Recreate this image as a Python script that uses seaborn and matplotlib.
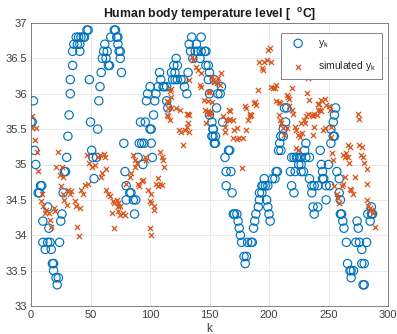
import matplotlib
matplotlib.use("Agg")
import matplotlib.pyplot as plt
import seaborn as sns
import pandas as pd

# ---- data ----
blue_k = [0, 1, 2, 3, 4, 8, 9, 6, 7, 14, 10, 15, 10, 14, 16, 12, 17, 18, 19, 19, 21, 23, 22, 24, 25, 26, 27, 28, 29,
          30, 31, 32, 33, 33, 35, 35, 41, 36, 39, 41, 38, 40, 42, 44, 45, 47, 48, 49, 50, 51, 52, 55, 53, 56, 57, 58,
          59, 60, 63, 61, 64, 62, 65, 66, 67, 72, 70, 71, 74, 75, 75, 76, 73, 73,
          78, 79, 80, 83, 84, 80, 86, 88, 87, 90, 94, 91, 93, 95, 101, 92, 96, 100, 101, 102, 103, 97, 104, 98, 105,
          100, 107, 108, 109, 111, 112, 114, 114, 115, 118, 121, 119, 121, 123, 126, 128, 122, 123, 120, 129, 131,
          132, 135, 143, 133, 139, 134, 138, 140, 143, 146, 147, 136, 142, 147, 149, 150, 150, 152, 153, 153, 154,
          149, 150, 154, 160, 157, 159, 156, 153, 152, 155, 155, 161, 166, 167, 163, 164, 168, 164, 169, 170, 171,
          173, 174, 175, 176, 177, 182, 185, 186, 179, 181, 180, 187, 188, 189, 191, 192, 192, 194, 194, 195, 196,
          197, 199, 198, 199, 200, 201, 203, 205, 206, 207, 208, 210, 209, 210, 212, 212, 214, 213, 215, 219, 221,
          223, 224, 226, 218, 222, 219, 221, 225, 227,
          227, 231, 234, 227, 230, 231, 229, 234, 236, 238, 241, 236, 237, 241, 238, 243, 244, 245, 245, 246, 248,
          251, 248, 250, 252, 254, 255, 252, 254, 255, 256, 257, 259, 259, 260, 260, 261, 262, 263, 265, 266, 268,
          269, 271, 269, 274, 275, 273, 276, 278, 278, 280, 279, 280, 282, 283, 286, 287, 285, 286]
blue_v = [35.6, 35.6, 35.9, 35.2, 35.0, 34.7, 34.7, 34.6, 34.6, 34.4, 34.2, 34.1, 33.9, 33.9, 33.9, 33.8, 33.8, 33.6,
          33.6, 33.5, 33.4, 33.4, 33.3, 33.9, 34.2, 34.3, 34.6, 34.9, 34.9, 35.1, 35.4, 35.7, 36.0, 36.2, 36.4, 36.6,
          36.6, 36.7, 36.7, 36.7, 36.8, 36.8, 36.8, 36.8, 36.8, 36.9, 36.9, 36.2, 35.6, 35.2, 35.1, 35.1, 34.8, 35.5,
          35.9, 36.1, 36.3, 36.5, 36.5, 36.6, 36.6, 36.7, 36.4, 36.4, 36.8, 36.8, 36.9, 36.9, 36.6, 36.6, 36.5, 36.3,
          36.8, 36.7,
          35.3, 34.9, 34.7, 34.6, 34.6, 34.5, 34.5, 34.5, 34.3, 35.1, 35.0, 35.3, 35.3, 35.3, 35.3, 35.6, 35.6, 35.5,
          35.5, 35.1, 35.7, 35.9, 35.9, 36.0, 36.0, 36.1, 36.1, 36.3, 36.2, 36.1, 36.1, 36.1, 35.9, 35.8, 36.3, 36.3,
          36.2, 36.2, 36.2, 36.2, 36.2, 36.5, 36.4, 36.4, 36.1, 36.0, 36.3, 36.8, 36.8, 36.7, 36.7, 36.6, 36.6, 36.6,
          36.6, 36.6, 36.6, 36.5, 36.5, 36.4, 36.2, 36.0, 35.7, 35.6, 35.5, 35.4, 35.3,
          36.4, 36.3, 36.2, 36.1, 36.0, 36.0, 35.8, 35.5, 35.4, 35.4, 35.3, 35.6, 35.2, 35.2, 35.1, 34.9, 34.9, 34.7,
          34.6, 34.3, 34.3, 34.3, 34.2, 34.1, 34.0, 33.9, 33.9, 33.9, 33.9, 33.7, 33.7, 33.6, 34.1, 34.2, 34.3, 34.4,
          34.5, 34.6, 34.6, 34.7, 34.7, 34.8, 34.7, 34.7, 34.5, 34.4, 34.3, 34.2, 34.8, 34.8, 34.9, 34.9, 35.2, 35.2,
          35.3, 35.4, 35.4, 35.5, 35.6, 35.8, 35.8, 35.1, 35.1, 35.1, 35.1, 35.1, 34.9, 34.9, 34.7, 34.6, 35.0, 34.9,
          35.1, 35.1, 35.1, 35.0, 35.2, 35.3, 34.9, 34.8, 34.7, 34.7, 34.7, 34.6, 34.4, 34.4, 34.3, 35.2, 35.0, 34.9,
          34.8, 34.8, 34.7, 34.7, 34.5, 35.0, 35.3, 35.4, 35.4, 35.5, 35.6, 35.7, 35.8, 34.9, 34.8, 34.6, 34.5, 34.3,
          34.3, 34.2, 34.1, 33.9, 33.6, 33.5, 33.5, 33.5, 33.4, 34.2, 34.1, 33.9, 33.9, 33.8, 33.6, 33.6, 33.3, 33.3,
          33.9, 34.3, 34.3, 34.3, 34.2, 34.4]

red_k = [1, 1, 4, 3, 5, 6, 9, 8, 10, 12, 13, 15, 16, 17, 19, 20, 23, 21, 26, 24, 27, 25, 27, 28, 30, 31, 33, 34, 37,
         38, 41, 39, 40, 42, 44, 45, 48, 47, 49, 51, 54, 56, 58, 61, 62, 59, 60, 63, 63, 65, 66, 69, 70, 73, 72, 68,
         70, 73, 75,
         73, 75, 77, 79, 80, 83, 84, 86, 87, 87, 89, 90, 91, 93, 94, 96, 97, 98, 101, 100, 101, 103, 103, 100, 101,
         105, 107, 108, 110, 107, 108, 110, 111, 112, 114, 115, 117, 114, 115, 118, 117, 118, 115, 118, 122, 125,
         124, 126, 129, 131, 132, 133, 128, 131, 132, 133, 133, 135, 136, 139, 140, 142, 143, 143, 145, 146, 149,
         150, 147, 149, 150,
         152, 153, 154, 157, 160, 156, 159, 149, 152, 149, 150, 161, 164, 166, 167, 170, 163, 163, 166, 167, 171,
         173, 170, 173, 175, 178, 177, 180, 181, 184, 185, 187, 188, 189, 181, 182, 184, 191, 192, 194, 195, 196,
         198, 199, 201, 202, 202, 203, 205, 206, 206, 208, 209, 208, 209, 210, 212, 213, 215, 215, 216, 217, 219,
         217, 219, 220, 222, 223, 224, 226, 223, 224, 227, 228,
         229, 230, 231, 233, 233, 232, 234, 236, 237, 238, 240, 241, 243, 244, 238, 237, 241, 242, 244, 247, 248,
         245, 247, 250, 251, 252, 252, 253, 254, 255, 257, 258, 259, 261, 262, 264, 262, 264, 265, 266, 266, 268,
         267, 268, 269, 271, 272, 275, 276, 276, 278, 277, 279, 280, 282, 282, 282, 283, 285, 286, 287, 289]
red_v = [35.68, 35.51, 35.51, 35.35, 35.18, 34.91, 34.59, 34.48, 34.41, 34.32, 34.36, 34.31, 34.22, 34.12, 34.38,
         34.34, 35.17, 34.97, 34.97, 34.85, 34.83, 34.69, 34.59, 34.50, 34.43, 34.64, 34.59, 34.62, 34.48, 34.41,
         34.38, 34.12, 33.99, 34.64, 34.59, 34.71, 34.73, 35.14, 35.02, 34.97, 35.00, 35.11, 35.14, 35.15, 35.11,
         34.83, 34.88, 34.93, 34.64, 34.59, 34.55, 34.48, 34.45, 34.41, 34.50, 34.31, 34.10, 34.34, 34.29,
         34.45, 34.41, 34.31, 34.29, 34.73, 34.83, 34.88, 35.14, 35.07, 34.97, 35.02, 34.73, 34.69, 34.76, 34.78,
         35.11, 35.06, 34.64, 34.59, 34.48, 34.45, 34.41, 34.36, 34.10, 34.01, 34.73, 34.69, 34.73, 34.71, 34.81,
         35.18, 35.11, 35.06, 34.97, 35.70, 35.68, 35.63, 35.90, 35.88, 35.95, 36.04, 36.07, 35.80, 35.80, 35.80,
         35.77, 35.49, 35.46, 35.49, 35.53, 35.58, 35.46, 35.27, 35.72, 35.72, 35.70, 36.20, 36.52, 36.48, 36.38,
         36.34, 36.13, 36.10, 36.29, 35.91, 35.77, 35.75, 35.72, 35.58, 36.02, 36.02,
         36.24, 36.20, 36.17, 36.22, 36.29, 36.15, 36.12, 35.90, 35.88, 35.72, 35.74, 35.68, 35.63, 35.63, 35.65,
         35.63, 35.53, 35.46, 35.77, 35.75, 35.49, 35.51, 35.37, 35.36, 35.37, 35.37, 34.95, 35.82, 35.80, 35.72,
         35.70, 35.87, 35.88, 35.84, 35.49, 35.63, 35.68, 36.05, 36.45, 36.36, 36.34, 36.45, 36.48, 36.62, 36.64,
         36.45, 36.10, 36.08, 36.08, 36.13, 35.90, 35.88, 35.87, 35.70, 35.63, 35.58, 35.51, 35.42, 35.51, 35.98,
         35.96, 35.93, 36.08, 35.82, 35.77, 35.72, 35.53, 35.49, 35.42, 35.39, 35.23, 35.21, 35.58, 35.44,
         35.63, 35.58, 35.68, 35.72, 36.22, 36.01, 35.91, 35.70, 35.68, 35.72, 35.70, 35.77, 35.77, 35.75, 35.53,
         35.42, 35.86, 35.86, 35.91, 35.93, 35.84, 35.49, 35.51, 35.82, 35.77, 35.53, 35.39, 35.16, 35.06, 34.69,
         34.59, 34.52, 34.45, 34.69, 34.73, 34.83, 35.14, 35.11, 35.16, 35.11, 35.27, 35.25, 35.02, 34.66, 34.64,
         34.59, 34.83, 35.72, 35.65, 35.27, 35.25, 35.14, 35.11, 35.02, 34.93, 34.73, 34.50, 34.41, 34.38, 34.36,
         34.32, 34.12]

title = 'Human body temperature level [  $\\mathregular{^{o}}$C]'
xlabel = 'k'
legend_labels = ['$\\mathregular{y_k}$', 'simulated $\\mathregular{y_k}$']
x_ticks = [0, 50, 100, 150, 200, 250, 300]
y_ticks = [33, 33.5, 34, 34.5, 35, 35.5, 36, 36.5, 37]
y_tick_labels = ['33', '33.5', '34', '34.5', '35', '35.5', '36', '36.5', '37']

BLUE = '#0072BD'
RED = '#D95319'

sns.set_style('whitegrid')
plt.rcParams['font.family'] = ['Liberation Sans', 'DejaVu Sans']

df_b = pd.DataFrame({'k': blue_k, 'v': blue_v})
df_r = pd.DataFrame({'k': red_k, 'v': red_v})

fig = plt.figure(figsize=(3.97, 3.34), dpi=100)
ax = fig.add_axes([31 / 397, 1 - 306 / 334, 357 / 397, 283 / 334])

sns.scatterplot(data=df_b, x='k', y='v', ax=ax, marker='o', s=36, facecolors='none',
                edgecolor=BLUE, linewidth=0.85, label=legend_labels[0], zorder=3)
sns.scatterplot(data=df_r, x='k', y='v', ax=ax, marker='x', s=14, color=RED,
                linewidth=0.9, label=legend_labels[1], zorder=4)

ax.set_xlim(0, 300)
ax.set_ylim(33, 37)
ax.set_xticks(x_ticks)
ax.set_yticks(y_ticks)
ax.set_yticklabels(y_tick_labels)
ax.tick_params(axis='both', labelsize=8, colors='#404040', length=2.5, direction='in', pad=3,
               width=0.5)
ax.grid(True, color='#e6e6e6', linewidth=0.6)
for sp in ax.spines.values():
    sp.set_color('#6e6e6e')
    sp.set_linewidth(0.6)
ax.set_xlabel(xlabel, fontsize=8.5, color='#404040', labelpad=2)
ax.set_ylabel('')
ax.set_title(title, fontsize=8.8, fontweight='bold', color='#1a1a1a', pad=4)

leg = ax.legend(loc='upper right', fontsize=7.5, frameon=True, fancybox=False,
                edgecolor='#707070', framealpha=1, borderpad=0.5, labelspacing=0.9,
                handletextpad=0.8, handlelength=2.3, borderaxespad=0.0,
                bbox_to_anchor=(0.983, 0.965))
leg.get_frame().set_linewidth(0.6)

fig.savefig('out.png', dpi=100)
